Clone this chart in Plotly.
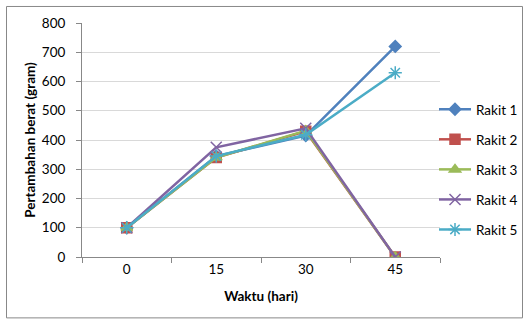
import plotly.graph_objects as go

categories = ["0", "15", "30", "45"]
series_names = ["Rakit 1", "Rakit 2", "Rakit 3", "Rakit 4", "Rakit 5"]
rakit1 = [100, 345, 415, 720]
rakit2 = [100, 340, 430, 0]
rakit3 = [100, 340, 432, 0]
rakit4 = [100, 375, 440, 0]
rakit5 = [100, 345, 418, 630]
y_ticks = [0, 100, 200, 300, 400, 500, 600, 700, 800]

values = [rakit1, rakit2, rakit3, rakit4, rakit5]
colors = ["#4F81BD", "#C0504D", "#9BBB59", "#8064A2", "#4BACC6"]
symbols = ["diamond", "square", "triangle-up", "x-thin-open", "asterisk-open"]
sizes = [9, 10, 10, 11, 11]

fig = go.Figure()
for name, vals, c, s, sz in zip(series_names, values, colors, symbols, sizes):
    fig.add_trace(go.Scatter(
        x=categories, y=vals, name=name, mode="lines+markers",
        line=dict(color=c, width=2.5),
        marker=dict(symbol=s, size=sz, color=c, line=dict(color=c, width=1.5)),
        legendgroup=name,
    ))

L, R, T, B = 82, 440, 23, 256.7
W, H = 529, 322
pw, ph = R - L, B - T

def px(x):
    return (x - L) / pw

def py(y):
    return (B - y) / ph

fig.update_layout(
    width=W, height=H,
    margin=dict(l=L, r=W - R, t=T, b=H - B, autoexpand=False),
    paper_bgcolor="white", plot_bgcolor="white",
    font=dict(family="Lato, Liberation Sans, sans-serif", size=13.5, color="#000000"),
    showlegend=True,
    legend=dict(xref="container", yref="container", x=434 / W, xanchor="left",
                y=1 - 94 / H, yanchor="top",
                traceorder="grouped", tracegroupgap=9.5,
                font=dict(size=13.5), itemwidth=32, bgcolor="rgba(0,0,0,0)"),
    xaxis=dict(
        type="category", categoryorder="array", categoryarray=categories,
        range=[-0.5, 3.5], showgrid=False, showline=True, linecolor="#888888", linewidth=1,
        ticks="outside", tickson="boundaries", ticklen=5, tickcolor="#888888",
        title=dict(text="<b>Waktu (hari)</b>", font=dict(size=13.5), standoff=15),
        zeroline=False,
    ),
    yaxis=dict(
        range=[0, 800], tickvals=y_ticks, showgrid=True, gridcolor="#D9D9D9", gridwidth=1,
        showline=True, linecolor="#888888", linewidth=1, ticks="outside", ticklen=5,
        tickcolor="#888888", zeroline=False, ticklabelstandoff=8,
        title=dict(text="<b>Pertambahan berat (gram)</b>", font=dict(size=13.5), standoff=3),
    ),
    shapes=[dict(type="rect", xref="paper", yref="paper",
                 x0=px(6.5), x1=px(522.5), y0=py(317.5), y1=py(6.5),
                 line=dict(color="#888888", width=1), fillcolor="rgba(0,0,0,0)", layer="below")],
)

fig.write_html("out.html")
